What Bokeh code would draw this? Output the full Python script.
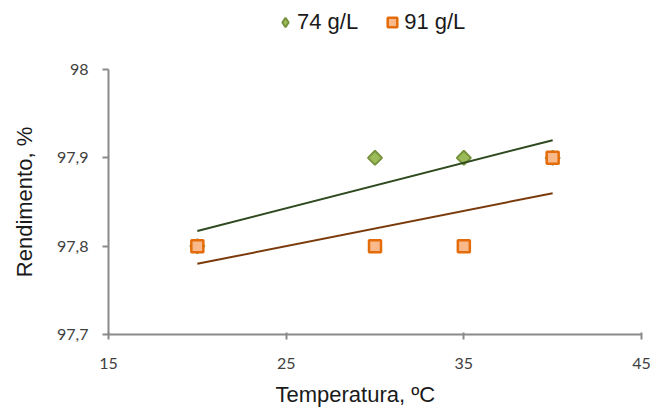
import numpy as np
from bokeh.plotting import figure
from bokeh.layouts import column
from bokeh.models import Range1d, FixedTicker, Legend, LegendItem, Title
from bokeh.embed import file_html
from bokeh.resources import INLINE

temperature = [20, 30, 35, 40]
rend_74 = [97.8, 97.9, 97.9, 97.9]
rend_91 = [97.8, 97.8, 97.8, 97.9]
series_labels = ["74 g/L", "91 g/L"]
x_ticks = [15, 25, 35, 45]
y_ticks = [97.7, 97.8, 97.9, 98.0]
y_tick_labels = ["97,7", "97,8", "97,9", "98"]
x_title = "Temperatura, ºC"
y_title = "Rendimento, %"

green = dict(fill_color="#9bbb59", line_color="#76923c", line_width=2)
orange = dict(fill_color="#f9b98a", line_color="#e46c0a", line_width=2.5)

# --- main chart ---
p = figure(width=652, height=368, output_backend="svg", toolbar_location=None,
           x_range=Range1d(15, 45), y_range=Range1d(97.7, 98.0),
           min_border_left=108, min_border_right=11, min_border_top=21, min_border_bottom=82)
p.outline_line_color = None
p.xgrid.visible = False
p.ygrid.visible = False
p.background_fill_color = "white"
p.border_fill_color = "white"

axis_col = "#8a8a8a"
for ax in (p.xaxis[0], p.yaxis[0]):
    ax.axis_line_color = axis_col
    ax.axis_line_width = 2
    ax.major_tick_line_color = axis_col
    ax.major_tick_line_width = 2
    ax.minor_tick_line_color = None
    ax.major_label_text_font = "Lato"
    ax.major_label_text_font_size = "16px"
    ax.major_label_text_color = "#404040"
    ax.axis_label_text_font = "Liberation Sans"
    ax.axis_label_text_font_size = "22px"
    ax.axis_label_text_font_style = "normal"
    ax.axis_label_text_color = "#1a1a1a"

p.xaxis.ticker = FixedTicker(ticks=x_ticks)
p.yaxis.ticker = FixedTicker(ticks=y_ticks)
p.yaxis.major_label_overrides = {t: l for t, l in zip(y_ticks, y_tick_labels)}
p.yaxis.axis_label = y_title
p.xaxis.major_tick_in = 2
p.xaxis.major_tick_out = 5
p.yaxis.major_tick_in = 0
p.yaxis.major_tick_out = 6
p.xaxis.major_label_standoff = 18
p.yaxis.major_label_standoff = 14
p.yaxis.axis_label_standoff = 17

xt = Title(text=x_title, align="left", offset=167, standoff=16,
           text_font="Liberation Sans", text_font_size="22px",
           text_font_style="normal", text_color="#1a1a1a")
p.add_layout(xt, "below")

p.scatter(temperature, rend_74, marker="square", angle=np.pi / 4, size=10, **green)
p.scatter(temperature, rend_91, marker="square", size=12, **orange)

xs = np.array([min(temperature), max(temperature)], dtype=float)
for ys, col in ((rend_74, "#2f4a1f"), (rend_91, "#7a3a0c")):
    k, b = np.polyfit(temperature, ys, 1)
    p.line(xs, k * xs + b, line_color=col, line_width=2)

# --- legend strip on top ---
lg = figure(width=652, height=48, output_backend="svg", toolbar_location=None,
            x_axis_location=None, y_axis_location=None, min_border=0,
            x_range=Range1d(0, 1), y_range=Range1d(0, 1))
lg.outline_line_color = None
lg.xgrid.visible = False
lg.ygrid.visible = False
d74 = lg.scatter(temperature, rend_74, marker="diamond", visible=False, **green)
d91 = lg.scatter(temperature, rend_91, marker="square", visible=False, **orange)
legend = Legend(items=[LegendItem(label=series_labels[0], renderers=[d74]),
                       LegendItem(label=series_labels[1], renderers=[d91])],
                orientation="horizontal", location=(165, 12),
                border_line_color=None, background_fill_alpha=0,
                padding=0, margin=0, spacing=22, glyph_width=24, glyph_height=28,
                label_standoff=0, label_text_font="Liberation Sans",
                label_text_font_size="22px", label_text_color="#1a1a1a")
lg.add_layout(legend, "center")

layout = column(lg, p, spacing=0)
open("out.html", "w").write(file_html(layout, INLINE))
